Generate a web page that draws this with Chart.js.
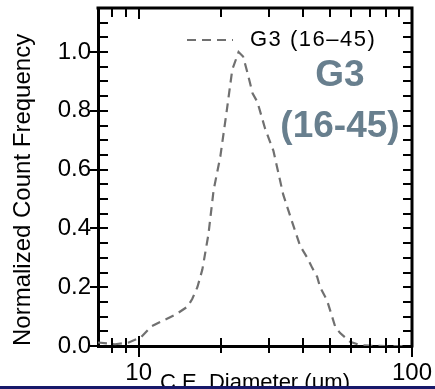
<!DOCTYPE html>
<html>
<head>
<meta charset="utf-8">
<script src="https://cdn.jsdelivr.net/npm/chart.js@4/dist/chart.umd.min.js"></script>
<style>
  html, body { margin: 0; padding: 0; background: #fff; overflow: hidden; }
  #wrap { position: relative; width: 435px; height: 389px; overflow: hidden; }
  #band { position: absolute; left: 0; top: 386px; width: 435px; height: 3px; background: #17186a; }
</style>
</head>
<body>
<div id="wrap">
  <canvas id="c" width="435" height="389"></canvas>
  <div id="band"></div>
</div>
<script>
// ---- data ----
const seriesLabel = 'G3 (16\u201345)';
const diameters = [7.1, 8.2, 9.2, 10.2, 11.1, 12.2, 13.6, 15.1, 15.7, 16.4, 17.1, 18.0, 18.8, 19.9, 21.0, 22.0, 23.2, 24.1, 25.0, 26.1, 27.2, 29.0, 31.1, 33.8, 36.5, 39.0, 41.4, 43.2, 45.0, 46.1, 48.9, 52.4, 54.6, 59.4, 64.6, 70, 80, 100];
const frequency = [0.012, 0.006, 0.012, 0.03, 0.066, 0.085, 0.106, 0.134, 0.16, 0.2, 0.26, 0.38, 0.53, 0.645, 0.8, 0.94, 1.0, 0.985, 0.93, 0.86, 0.83, 0.74, 0.665, 0.515, 0.42, 0.34, 0.30, 0.265, 0.235, 0.2, 0.155, 0.065, 0.044, 0.014, 0.003, 0.001, 0, 0];
const xMajorTicks = [10, 100];
const xMinorTicks = [8, 9, 20, 30, 40, 50, 60, 70, 80, 90];
const yMajorTicks = [0, 0.2, 0.4, 0.6, 0.8, 1.0];
const yMinorTicks = [0.05, 0.1, 0.15, 0.25, 0.3, 0.35, 0.45, 0.5, 0.55, 0.65, 0.7, 0.75, 0.85, 0.9, 0.95, 1.05, 1.1];
const annotationLines = ['G3', '(16-45)'];
const xTitle = 'C.E. Diameter (\u03bcm)';
const yTitle = 'Normalized Count Frequency';

const FONT = "'Liberation Sans', Arial, Helvetica, sans-serif";

const framePlugin = {
  id: 'frame',
  afterDatasetsDraw(chart) {
    const ctx = chart.ctx;
    const a = chart.chartArea;
    const xs = chart.scales.x, ys = chart.scales.y;
    ctx.save();
    ctx.strokeStyle = '#000';
    ctx.lineCap = 'butt';
    // top and right frame lines
    ctx.lineWidth = 3;
    ctx.beginPath();
    ctx.moveTo(a.left - 1.5, a.top);
    ctx.lineTo(a.right, a.top);
    ctx.lineTo(a.right, a.bottom + 1.5);
    ctx.stroke();
    // tick marks
    ctx.lineWidth = 2;
    ctx.beginPath();
    xMinorTicks.forEach(v => {
      const px = Math.round(xs.getPixelForValue(v));
      ctx.moveTo(px, a.top); ctx.lineTo(px, a.top + 9);
      ctx.moveTo(px, a.bottom - 8); ctx.lineTo(px, a.bottom + 7);
    });
    xMajorTicks.forEach(v => {
      const px = Math.round(xs.getPixelForValue(v));
      ctx.moveTo(px, a.top); ctx.lineTo(px, a.top + 11);
      ctx.moveTo(px, a.bottom - 10); ctx.lineTo(px, a.bottom + 11);
    });
    yMinorTicks.forEach(v => {
      const py = Math.round(ys.getPixelForValue(v));
      ctx.moveTo(a.left, py); ctx.lineTo(a.left + 10, py);
      ctx.moveTo(a.right - 9, py); ctx.lineTo(a.right, py);
    });
    yMajorTicks.forEach(v => {
      const py = Math.round(ys.getPixelForValue(v));
      ctx.moveTo(a.left - 8, py); ctx.lineTo(a.left + 10, py);
      ctx.moveTo(a.right - 9, py); ctx.lineTo(a.right, py);
    });
    ctx.stroke();

    // legend (inside plot, top right)
    const ds = chart.data.datasets[0];
    const ly = 40;
    ctx.strokeStyle = ds.borderColor;
    ctx.lineWidth = ds.borderWidth;
    ctx.setLineDash(ds.borderDash);
    ctx.beginPath();
    ctx.moveTo(187, ly); ctx.lineTo(233, ly);
    ctx.stroke();
    ctx.setLineDash([]);
    ctx.fillStyle = '#000';
    ctx.font = '22px ' + FONT;
    ctx.textBaseline = 'middle';
    ctx.textAlign = 'left';
    try { ctx.letterSpacing = '1.5px'; } catch (e) {}
    ctx.fillText(ds.label, 250, ly);
    try { ctx.letterSpacing = '0px'; } catch (e) {}

    // big annotation
    ctx.fillStyle = '#687f8e';
    ctx.font = 'bold 37px ' + FONT;
    ctx.textAlign = 'center';
    ctx.fillText(annotationLines[0], 340, 76);
    ctx.fillText(annotationLines[1], 340, 127);
    ctx.restore();
  }
};

new Chart(document.getElementById('c'), {
  type: 'line',
  data: {
    datasets: [{
      label: seriesLabel,
      data: diameters.map((d, i) => ({ x: d, y: frequency[i] })),
      borderColor: '#707070',
      borderWidth: 2.2,
      borderDash: [9, 6],
      backgroundColor: 'transparent',
      pointRadius: 0,
      tension: 0,
      fill: false
    }]
  },
  options: {
    responsive: false,
    animation: false,
    layout: { padding: { left: 0, right: 23, top: 8, bottom: 0 } },
    plugins: { legend: { display: false }, tooltip: { enabled: false } },
    scales: {
      x: {
        type: 'logarithmic',
        min: 7.1,
        max: 100,
        grid: { display: false, drawTicks: true, tickLength: 8 },
        border: { display: true, color: '#000', width: 3 },
        ticks: {
          autoSkip: false,
          maxRotation: 0,
          padding: 5,
          color: '#000',
          font: { family: FONT, size: 24 },
          callback: (v) => (xMajorTicks.includes(v) ? String(v) : '')
        },
        title: {
          display: true,
          text: xTitle,
          color: '#000',
          font: { family: FONT, size: 22 },
          padding: { top: 0, bottom: -7 }
        },
        afterFit: (s) => { s.height = 43; s.paddingLeft = 0; s.paddingRight = 0; }
      },
      y: {
        type: 'linear',
        min: 0,
        max: 1.15,
        grid: { display: false, drawTicks: true, tickLength: 7 },
        border: { display: true, color: '#000', width: 3 },
        ticks: {
          stepSize: 0.05,
          autoSkip: false,
          padding: 0,
          color: '#000',
          font: { family: FONT, size: 24 },
          callback: (v) => (Math.abs(v * 5 - Math.round(v * 5)) < 1e-6 ? v.toFixed(1) : '')
        },
        title: {
          display: true,
          text: yTitle,
          align: 'start',
          color: '#000',
          font: { family: FONT, size: 24 },
          padding: { top: 9, bottom: 0 }
        },
        afterFit: (s) => { s.width = 98; s.paddingTop = 0; s.paddingBottom = 0; }
      }
    }
  },
  plugins: [framePlugin]
});
</script>
</body>
</html>
